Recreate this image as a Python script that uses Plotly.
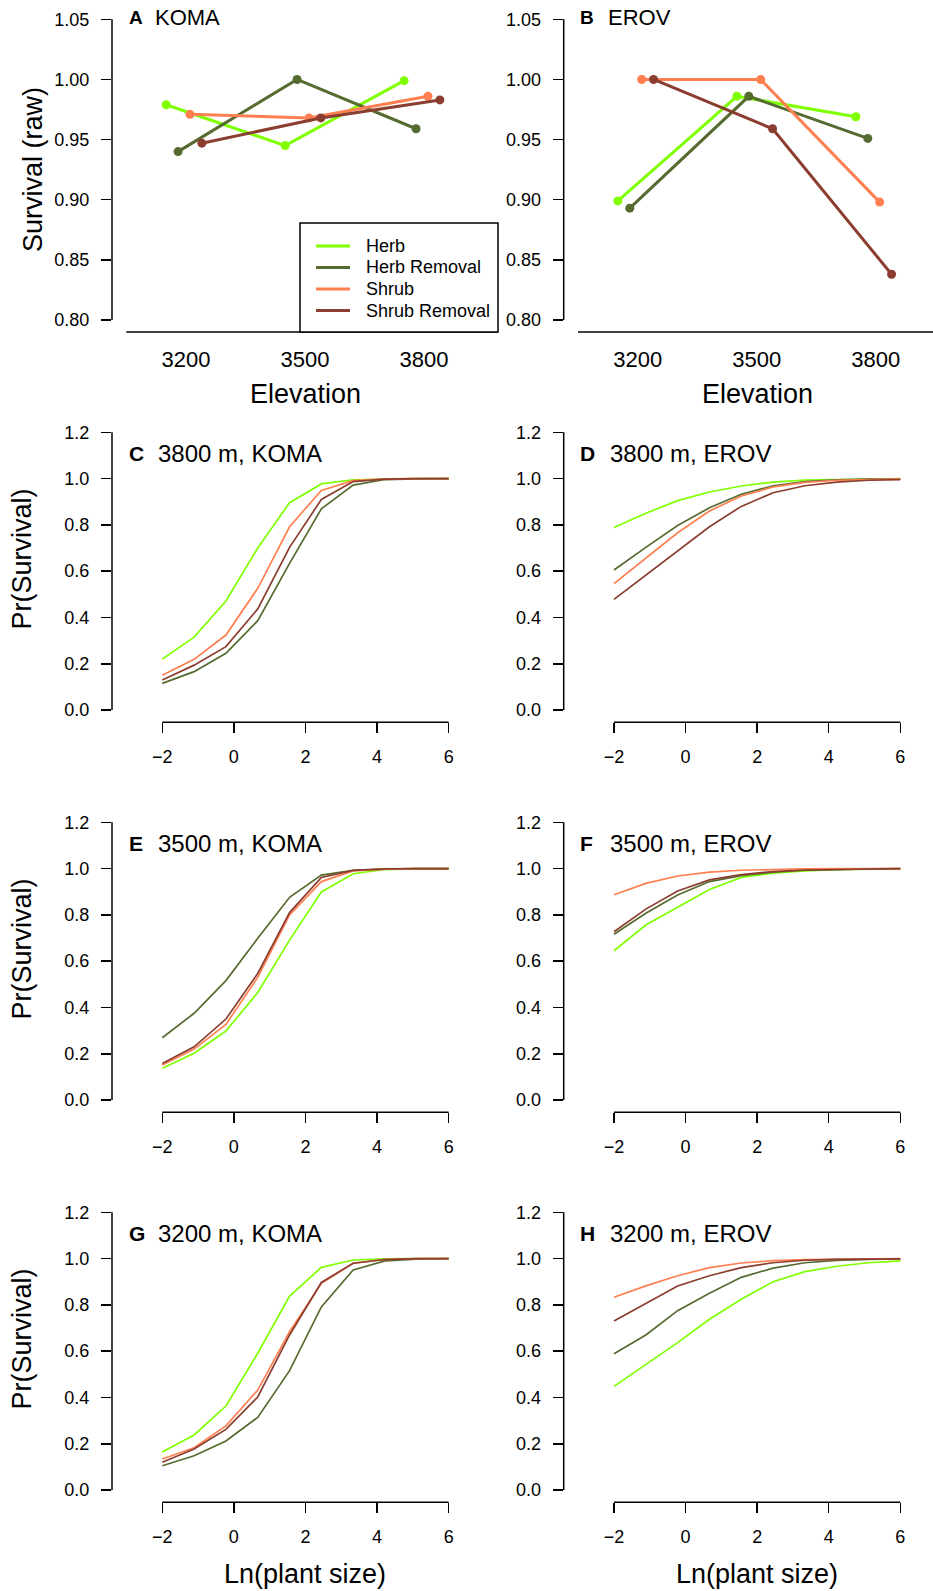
import plotly.graph_objects as go

W, H = 933, 1591
FONT = "Liberation Sans, Arial, Helvetica, sans-serif"
BLACK = "#000000"

# ---------------- data ----------------
treatments = ["Herb", "Herb Removal", "Shrub", "Shrub Removal"]
colors = ["#7FFF00", "#556B2F", "#FF7F50", "#8B3E2F"]

elevations = [3200, 3500, 3800]
elev_ticks = [3200, 3500, 3800]
dodge = [-50, -20, 10, 40]          # horizontal dodge of treatments (elevation units)
raw_ticks = [0.80, 0.85, 0.90, 0.95, 1.00, 1.05]

# Panel A: KOMA raw survival
koma_herb = [0.979, 0.945, 0.999]
koma_herb_rem = [0.940, 1.000, 0.959]
koma_shrub = [0.971, 0.968, 0.986]
koma_shrub_rem = [0.947, 0.968, 0.983]
# Panel B: EROV raw survival
erov_herb = [0.899, 0.986, 0.969]
erov_herb_rem = [0.893, 0.986, 0.951]
erov_shrub = [1.000, 1.000, 0.898]
erov_shrub_rem = [1.000, 0.959, 0.838]

size_grid = [-2.0, -1.111, -0.222, 0.667, 1.556, 2.444, 3.333, 4.222, 5.111, 6.0]
size_ticks = [-2, 0, 2, 4, 6]
surv_ticks = [0.0, 0.2, 0.4, 0.6, 0.8, 1.0, 1.2]

# C: 3800 m, KOMA
k3800_herb = [0.220, 0.315, 0.471, 0.700, 0.896, 0.977, 0.995, 0.999, 1.000, 1.000]
k3800_herb_rem = [0.115, 0.166, 0.245, 0.386, 0.634, 0.869, 0.972, 0.996, 0.999, 1.000]
k3800_shrub = [0.150, 0.219, 0.324, 0.526, 0.792, 0.949, 0.991, 0.999, 1.000, 1.000]
k3800_shrub_rem = [0.130, 0.194, 0.274, 0.437, 0.703, 0.910, 0.987, 0.998, 1.000, 1.000]
# D: 3800 m, EROV
e3800_herb = [0.789, 0.850, 0.905, 0.942, 0.968, 0.985, 0.994, 0.997, 0.999, 1.000]
e3800_herb_rem = [0.605, 0.703, 0.797, 0.874, 0.932, 0.969, 0.987, 0.995, 0.998, 0.999]
e3800_shrub = [0.546, 0.655, 0.766, 0.860, 0.925, 0.964, 0.984, 0.993, 0.997, 0.999]
e3800_shrub_rem = [0.478, 0.583, 0.684, 0.792, 0.880, 0.939, 0.969, 0.985, 0.993, 0.996]
# E: 3500 m, KOMA
k3500_herb = [0.137, 0.202, 0.298, 0.465, 0.691, 0.899, 0.978, 0.996, 1.000, 1.000]
k3500_herb_rem = [0.269, 0.375, 0.516, 0.699, 0.876, 0.972, 0.992, 0.998, 1.000, 1.000]
k3500_shrub = [0.151, 0.220, 0.327, 0.530, 0.800, 0.944, 0.990, 0.998, 1.000, 1.000]
k3500_shrub_rem = [0.158, 0.230, 0.350, 0.547, 0.810, 0.962, 0.992, 0.999, 1.000, 1.000]
# F: 3500 m, EROV
e3500_herb = [0.645, 0.756, 0.833, 0.910, 0.962, 0.980, 0.990, 0.996, 0.998, 0.999]
e3500_herb_rem = [0.716, 0.807, 0.886, 0.944, 0.969, 0.985, 0.993, 0.997, 0.999, 1.000]
e3500_shrub = [0.887, 0.936, 0.968, 0.985, 0.993, 0.997, 0.999, 1.000, 1.000, 1.000]
e3500_shrub_rem = [0.727, 0.825, 0.903, 0.951, 0.974, 0.987, 0.994, 0.997, 0.999, 1.000]
# G: 3200 m, KOMA
k3200_herb = [0.164, 0.238, 0.363, 0.591, 0.838, 0.962, 0.994, 0.999, 1.000, 1.000]
k3200_herb_rem = [0.105, 0.148, 0.212, 0.314, 0.516, 0.791, 0.951, 0.990, 0.998, 1.000]
k3200_shrub = [0.134, 0.183, 0.277, 0.432, 0.684, 0.893, 0.980, 0.997, 1.000, 1.000]
k3200_shrub_rem = [0.120, 0.177, 0.262, 0.402, 0.670, 0.897, 0.980, 0.996, 1.000, 1.000]
# H: 3200 m, EROV
e3200_herb = [0.448, 0.543, 0.637, 0.738, 0.824, 0.900, 0.944, 0.967, 0.982, 0.990]
e3200_herb_rem = [0.589, 0.670, 0.775, 0.850, 0.919, 0.959, 0.982, 0.992, 0.997, 0.999]
e3200_shrub = [0.833, 0.882, 0.926, 0.961, 0.981, 0.991, 0.996, 0.998, 0.999, 1.000]
e3200_shrub_rem = [0.730, 0.807, 0.882, 0.926, 0.961, 0.982, 0.993, 0.997, 0.999, 0.999]

raw_panels = [
    ("A", "KOMA", [koma_herb, koma_herb_rem, koma_shrub, koma_shrub_rem]),
    ("B", "EROV", [erov_herb, erov_herb_rem, erov_shrub, erov_shrub_rem]),
]
curve_panels = [
    ("C", "3800 m, KOMA", [k3800_herb, k3800_herb_rem, k3800_shrub, k3800_shrub_rem]),
    ("D", "3800 m, EROV", [e3800_herb, e3800_herb_rem, e3800_shrub, e3800_shrub_rem]),
    ("E", "3500 m, KOMA", [k3500_herb, k3500_herb_rem, k3500_shrub, k3500_shrub_rem]),
    ("F", "3500 m, EROV", [e3500_herb, e3500_herb_rem, e3500_shrub, e3500_shrub_rem]),
    ("G", "3200 m, KOMA", [k3200_herb, k3200_herb_rem, k3200_shrub, k3200_shrub_rem]),
    ("H", "3200 m, EROV", [e3200_herb, e3200_herb_rem, e3200_shrub, e3200_shrub_rem]),
]

# ---------------- layout helpers (pixels -> paper) ----------------
def fx(px):
    return px / W


def fy(py):
    return 1 - py / H


COL_LEFT = [112.0, 563.7]
PANEL_W = 360.0
ROWS = [(7.3, 332.0), (420.75, 722.3), (810.75, 1112.3), (1200.75, 1502.3)]

fig = go.Figure()
layout = dict(
    width=W, height=H,
    margin=dict(l=0, r=0, t=0, b=0),
    paper_bgcolor="white", plot_bgcolor="white",
    showlegend=False,
    font=dict(family=FONT, color=BLACK, size=18),
)
shapes = []
annotations = []

tickfont = dict(family=FONT, size=18, color=BLACK)
elevfont = dict(family=FONT, size=22, color=BLACK)


def axis_names(i):
    s = "" if i == 1 else str(i)
    return "xaxis" + s, "yaxis" + s, "x" + s, "y" + s


def add_title(letter, text, col, ycen, letter_size, text_size, text_x):
    lx = 126.5 if col == 0 else 578.3
    annotations.append(dict(
        text="<b>%s</b>" % letter, xref="paper", yref="paper",
        x=fx(lx), y=fy(ycen), xanchor="left", yanchor="middle",
        showarrow=False, font=dict(family=FONT, size=letter_size, color=BLACK)))
    annotations.append(dict(
        text=text, xref="paper", yref="paper",
        x=fx(text_x), y=fy(ycen), xanchor="left", yanchor="middle",
        showarrow=False, font=dict(family=FONT, size=text_size, color=BLACK)))


# ---------------- panels A, B ----------------
for p, (letter, site, series) in enumerate(raw_panels):
    idx = p + 1
    xa, ya, xr, yr = axis_names(idx)
    col = p
    top, bot = ROWS[0]
    left = COL_LEFT[col]
    layout[xa] = dict(
        domain=[fx(left), fx(left + PANEL_W)], range=[3013.4, 3921.0],
        anchor=yr, showgrid=False, zeroline=False, showline=False,
        tickmode="array", tickvals=elev_ticks, ticks="",
        ticklabelstandoff=12, tickfont=elevfont)
    layout[ya] = dict(
        domain=[fy(bot), fy(top)], range=[0.79, 1.06],
        anchor=xr, showgrid=False, zeroline=False, showline=False,
        tickmode="array", tickvals=raw_ticks, tickformat=".2f",
        ticks="outside", ticklen=10, tickwidth=1.5, tickcolor=BLACK,
        ticklabelstandoff=8, tickfont=tickfont)
    for t, vals in enumerate(series):
        fig.add_trace(go.Scatter(
            x=[e + dodge[t] for e in elevations], y=vals,
            xaxis=xr, yaxis=yr, mode="lines+markers", name=treatments[t],
            line=dict(color=colors[t], width=3),
            marker=dict(color=colors[t], size=9),
            cliponaxis=False, showlegend=False))
    # axis lines (R style)
    shapes.append(dict(type="line", xref=xr + " domain", yref=yr,
                       x0=0, x1=0, y0=raw_ticks[0], y1=raw_ticks[-1],
                       line=dict(color=BLACK, width=1.5)))
    xend = 498.0 if col == 0 else 933.0
    shapes.append(dict(type="line", xref="paper", yref=yr + " domain",
                       x0=fx(left + 14.3), x1=fx(xend), y0=0, y1=0,
                       line=dict(color=BLACK, width=1.5)))
    add_title(letter, site, col, 17.5, 19, 22, 153.0 if col == 0 else 606.0)
    annotations.append(dict(text="Elevation", xref="paper", yref="paper",
                            x=fx(left + 193.3), y=fy(394), xanchor="center", yanchor="middle",
                            showarrow=False, font=dict(family=FONT, size=27, color=BLACK)))

annotations.append(dict(text="Survival (raw)", xref="paper", yref="paper",
                        x=fx(32.5), y=fy(169.5), xanchor="center", yanchor="middle",
                        textangle=-90, showarrow=False,
                        font=dict(family=FONT, size=27, color=BLACK)))

# ---------------- panels C-H ----------------
for p, (letter, title, series) in enumerate(curve_panels):
    idx = p + 3
    xa, ya, xr, yr = axis_names(idx)
    col = p % 2
    row = p // 2 + 1
    top, bot = ROWS[row]
    left = COL_LEFT[col]
    layout[xa] = dict(
        domain=[fx(left), fx(left + PANEL_W)], range=[-3.405, 6.653],
        anchor=yr, showgrid=False, zeroline=False, showline=False,
        tickmode="array", tickvals=size_ticks,
        ticks="outside", ticklen=10, tickwidth=1.5, tickcolor=BLACK,
        ticklabelstandoff=8, tickfont=tickfont)
    layout[ya] = dict(
        domain=[fy(bot), fy(top)], range=[-0.053, 1.25],
        anchor=xr, showgrid=False, zeroline=False, showline=False,
        tickmode="array", tickvals=surv_ticks, tickformat=".1f",
        ticks="outside", ticklen=10, tickwidth=1.5, tickcolor=BLACK,
        ticklabelstandoff=8, tickfont=tickfont)
    for t, vals in enumerate(series):
        fig.add_trace(go.Scatter(
            x=size_grid, y=vals, xaxis=xr, yaxis=yr, mode="lines",
            name=treatments[t], line=dict(color=colors[t], width=1.7),
            cliponaxis=False, showlegend=False))
    shapes.append(dict(type="line", xref=xr + " domain", yref=yr,
                       x0=0, x1=0, y0=surv_ticks[0], y1=surv_ticks[-1],
                       line=dict(color=BLACK, width=1.5)))
    shapes.append(dict(type="line", xref=xr, yref=yr + " domain",
                       x0=size_ticks[0], x1=size_ticks[-1], y0=0, y1=0,
                       line=dict(color=BLACK, width=1.5)))
    tcen = top + 32.6
    add_title(letter, title, col, tcen, 21, 24, 156.0 if col == 0 else 608.0)
    if col == 0:
        annotations.append(dict(text="Pr(Survival)", xref="paper", yref="paper",
                                x=fx(22.5), y=fy(top + 138.3), xanchor="center", yanchor="middle",
                                textangle=-90, showarrow=False,
                                font=dict(family=FONT, size=27, color=BLACK)))
    if row == 3:
        annotations.append(dict(text="Ln(plant size)", xref="paper", yref="paper",
                                x=fx(left + 193.3), y=fy(1574), xanchor="center", yanchor="middle",
                                showarrow=False, font=dict(family=FONT, size=27, color=BLACK)))

# ---------------- legend (panel A) ----------------
LEG_L, LEG_R, LEG_T, LEG_B = 300.0, 498.0, 223.0, 332.0
shapes.append(dict(type="rect", xref="paper", yref="paper",
                   x0=fx(LEG_L), x1=fx(LEG_R), y0=fy(LEG_B), y1=fy(LEG_T),
                   line=dict(color=BLACK, width=1.5), fillcolor="white", layer="above"))
leg_rows = [246.0, 267.5, 289.0, 310.5]
for t, name in enumerate(treatments):
    shapes.append(dict(type="line", xref="paper", yref="paper",
                       x0=fx(316), x1=fx(350), y0=fy(leg_rows[t]), y1=fy(leg_rows[t]),
                       line=dict(color=colors[t], width=3), layer="above"))
    annotations.append(dict(text=name, xref="paper", yref="paper",
                            x=fx(364), y=fy(leg_rows[t]), xanchor="left", yanchor="middle",
                            showarrow=False, font=dict(family=FONT, size=18, color=BLACK)))

layout["shapes"] = shapes
layout["annotations"] = annotations
fig.update_layout(**layout)
fig.write_html("out.html",
               config={"displayModeBar": False, "staticPlot": True},
               post_script="document.body.style.margin='0px';document.body.style.padding='0px';")
